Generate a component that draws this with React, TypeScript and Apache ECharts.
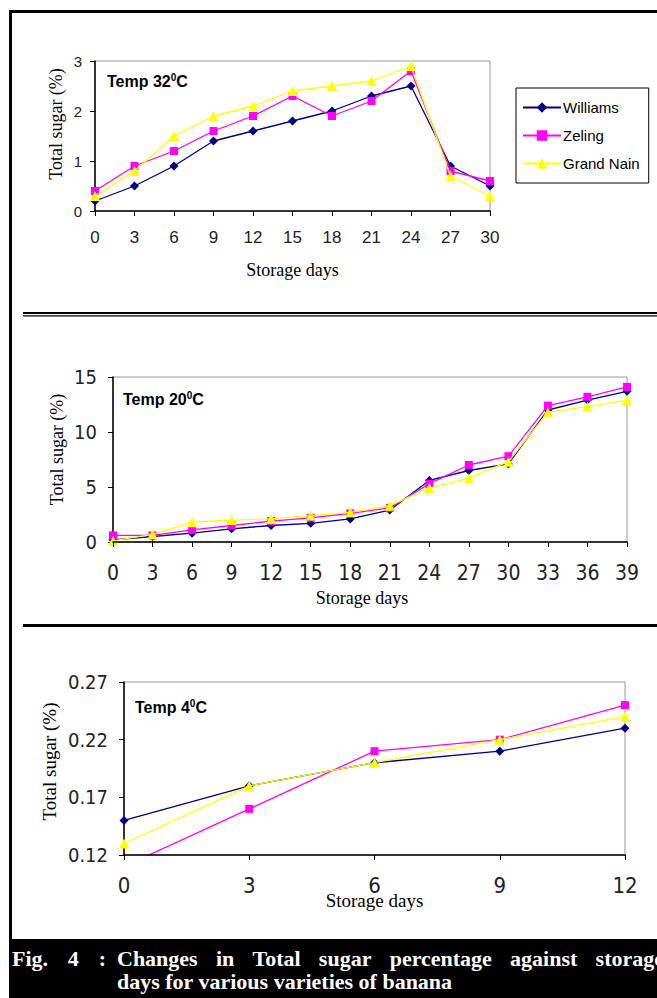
import React, { useEffect, useRef } from 'react';
import * as echarts from 'echarts';

// ---------- data ----------
const varieties = ['Williams', 'Zeling', 'Grand Nain'];

const days32 = [0, 3, 6, 9, 12, 15, 18, 21, 24, 27, 30];
const williams32 = [0.2, 0.5, 0.9, 1.4, 1.6, 1.8, 2.0, 2.3, 2.5, 0.9, 0.5];
const zeling32 = [0.4, 0.9, 1.2, 1.6, 1.9, 2.3, 1.9, 2.2, 2.8, 0.8, 0.6];
const grandNain32 = [0.3, 0.8, 1.5, 1.9, 2.1, 2.4, 2.5, 2.6, 2.9, 0.7, 0.3];

const days20 = [0, 3, 6, 9, 12, 15, 18, 21, 24, 27, 30, 33, 36, 39];
const williams20 = [0.2, 0.5, 0.8, 1.2, 1.5, 1.7, 2.1, 2.9, 5.6, 6.5, 7.1, 12.0, 12.9, 13.7];
const zeling20 = [0.6, 0.6, 1.1, 1.5, 1.9, 2.2, 2.6, 3.1, 5.3, 7.0, 7.8, 12.4, 13.2, 14.1];
const grandNain20 = [0.1, 0.7, 1.8, 2.0, 2.1, 2.4, 2.7, 3.3, 4.9, 5.8, 7.3, 11.8, 12.3, 12.9];

const days4 = [0, 3, 6, 9, 12];
const williams4 = [0.15, 0.18, 0.2, 0.21, 0.23];
const zeling4 = [0.11, 0.16, 0.21, 0.22, 0.25];
const grandNain4 = [0.13, 0.18, 0.2, 0.22, 0.24];

const tempLabels = ['32', '20', '4'];
const xAxisTitle = 'Storage days';
const yAxisTitle = 'Total sugar (%)';
const captionLine1a = ['Fig.', '4', ':'];
const captionLine1b = ['Changes', 'in', 'Total', 'sugar', 'percentage', 'against', 'storage'];
const captionLine2 = 'days for various varieties of banana';

// ---------- styles ----------
const colors = ['#000080', '#FF00FF', '#FFFF00'];
const symbols = ['diamond', 'rect', 'triangle'];
const symbolSizes = [9, 8, 10];
const SANS = '"Liberation Sans", Arial, sans-serif';
const NARROW = '"Liberation Sans Narrow", "Arial Narrow", "DejaVu Sans Condensed", sans-serif';
const SERIF = '"Liberation Serif", "Times New Roman", serif';

function pairs(xs: number[], ys: number[]) {
  return xs.map((x, i) => [x, ys[i]]);
}

function measure(text: string, font: string) {
  const c = document.createElement('canvas').getContext('2d')!;
  c.font = font;
  return c.measureText(text).width;
}

function justify(words: string[], x0: number, x1: number, font: string) {
  const w = words.map((t) => measure(t, font));
  const total = w.reduce((a, b) => a + b, 0);
  const gap = words.length > 1 ? (x1 - x0 - total) / (words.length - 1) : 0;
  const out: { text: string; x: number }[] = [];
  let x = x0;
  words.forEach((t, i) => {
    out.push({ text: t, x });
    x += w[i] + gap;
  });
  return out;
}

export default function App() {
  const ref = useRef<HTMLDivElement>(null);

  useEffect(() => {
    const chart = echarts.init(ref.current!, null, { renderer: 'svg' });

    const grids = [
      { left: 95, top: 61, width: 395, height: 150 },
      { left: 113, top: 377, width: 514, height: 165 },
      { left: 124, top: 682, width: 501, height: 173 },
    ];

    const panels = [
      { days: days32, vals: [williams32, zeling32, grandNain32], xmax: 30, ymin: 0, ymax: 3, yint: 1,
        xFont: { fontFamily: SANS, fontSize: 17 }, yFont: { fontFamily: SANS, fontSize: 15 },
        xMargin: 18, yMargin: 13, xNameGap: 50, yNameGap: 30, yNameShift: 24, xNamePad: [0, 0, 0, 0], nameSize: 18, fmt: (v: number) => String(v) },
      { days: days20, vals: [williams20, zeling20, grandNain20], xmax: 39, ymin: 0, ymax: 15, yint: 5,
        xFont: { fontFamily: NARROW, fontSize: 21 }, yFont: { fontFamily: NARROW, fontSize: 20 },
        xMargin: 20, yMargin: 16, xNameGap: 47, yNameGap: 47, yNameShift: 20, xNamePad: [0, 16, 0, 0], nameSize: 18, fmt: (v: number) => String(v) },
      { days: days4, vals: [williams4, zeling4, grandNain4], xmax: 12, ymin: 0.12, ymax: 0.27, yint: 0.05,
        xFont: { fontFamily: NARROW, fontSize: 22 }, yFont: { fontFamily: NARROW, fontSize: 20 },
        xMargin: 19, yMargin: 16, xNameGap: 33, yNameGap: 65, yNameShift: 14, xNamePad: [3, 15, 7, 15], nameSize: 19, fmt: (v: number) => v.toFixed(2) },
    ];

    const xAxis = panels.map((p, g) => ({
      gridIndex: g,
      type: 'value',
      min: 0,
      max: p.xmax,
      interval: 3,
      axisLine: { show: true, onZero: false, lineStyle: { color: '#000', width: 1.5 } },
      axisTick: { show: true, length: 5, lineStyle: { color: '#000', width: 1 } },
      splitLine: { show: false },
      axisLabel: { ...p.xFont, color: '#222', margin: p.xMargin },
      name: xAxisTitle,
      nameLocation: 'middle',
      nameGap: p.xNameGap,
      nameMoveOverlap: false,
      nameTextStyle: {
        fontFamily: SERIF, fontSize: p.nameSize, color: '#000',
        padding: p.xNamePad,
        backgroundColor: g === 2 ? '#fff' : 'transparent',
      },
      z: 5,
    }));

    const yAxis = panels.map((p, g) => ({
      gridIndex: g,
      type: 'value',
      min: p.ymin,
      max: p.ymax,
      interval: p.yint,
      axisLine: { show: true, onZero: false, lineStyle: { color: '#000', width: 1.5 } },
      axisTick: { show: true, length: 5, lineStyle: { color: '#000', width: 1 } },
      splitLine: { show: false },
      axisLabel: { ...p.yFont, color: '#222', margin: p.yMargin, formatter: p.fmt },
      name: yAxisTitle,
      nameLocation: 'middle',
      nameGap: p.yNameGap,
      nameMoveOverlap: false,
      nameTextStyle: { fontFamily: SERIF, fontSize: p.nameSize, color: '#000', padding: [0, 0, 0, p.yNameShift] },
    }));

    const series: any[] = [];
    panels.forEach((p, g) => {
      p.vals.forEach((vals, k) => {
        series.push({
          type: 'line',
          name: varieties[k],
          xAxisIndex: g,
          yAxisIndex: g,
          data: pairs(p.days, vals),
          symbol: symbols[k],
          symbolSize: symbolSizes[k],
          showAllSymbol: true,
          itemStyle: { color: colors[k] },
          lineStyle: { color: colors[k], width: 1.3 },
          z: 2 + k,
          clip: true,
        });
      });
    });

    const capFont = `bold 22px ${SERIF}`;
    const w1a = justify(captionLine1a, 12, 106, capFont);
    const w1b = justify(captionLine1b, 117, 664, capFont);
    const capText = (t: string, x: number, y: number) => ({
      type: 'text', x, y, z: 20,
      style: { text: t, fill: '#fff', font: capFont, verticalAlign: 'middle', textAlign: 'left' },
    });

    const tempY = [81, 399, 707];
    const tempX = [107, 123, 135];
    const tempText = tempLabels.map((t, i) => ({
      type: 'text', x: tempX[i], y: tempY[i], z: 20,
      style: {
        text: `{a|Temp ${t}}{s|0}{a|C}`,
        verticalAlign: 'middle',
        rich: {
          a: { fontSize: 16, fontWeight: 'bold', fontFamily: SANS, fill: '#000', lineHeight: 18 },
          s: { fontSize: 10, fontWeight: 'bold', fontFamily: SANS, fill: '#000', lineHeight: 10, verticalAlign: 'top' },
        },
      },
    }));

    const option: any = {
      animation: false,
      backgroundColor: '#fff',
      grid: grids.map((gr) => ({ ...gr, show: true, borderColor: '#999', borderWidth: 1, backgroundColor: '#fff', containLabel: false, outerBoundsMode: 'none' })),
      xAxis,
      yAxis,
      legend: {
        show: true,
        orient: 'vertical',
        left: 516,
        top: 88,
        data: varieties,
        itemWidth: 38,
        itemHeight: 13,
        itemGap: 13,
        padding: [12, 9, 12, 6],
        borderColor: '#000',
        borderWidth: 1,
        backgroundColor: '#fff',
        textStyle: { fontFamily: SANS, fontSize: 15, color: '#000', padding: [0, 0, 0, -3] },
        selectedMode: false,
      },
      series,
      graphic: [
        // outer frame
        { type: 'rect', shape: { x: 9, y: 10, width: 3, height: 930 }, style: { fill: '#000' }, z: 20 },
        { type: 'rect', shape: { x: 9, y: 10, width: 648, height: 3 }, style: { fill: '#000' }, z: 20 },
        // separators
        { type: 'rect', shape: { x: 23, y: 312, width: 634, height: 2 }, style: { fill: '#000' }, z: 20 },
        { type: 'rect', shape: { x: 23, y: 315.3, width: 634, height: 1.2 }, style: { fill: '#000' }, z: 20 },
        { type: 'rect', shape: { x: 23, y: 624, width: 634, height: 3 }, style: { fill: '#000' }, z: 20 },
        // caption band
        { type: 'rect', shape: { x: 9, y: 939, width: 648, height: 59 }, style: { fill: '#000' }, z: 19 },
        ...w1a.map((w) => capText(w.text, w.x, 958)),
        ...w1b.map((w) => capText(w.text, w.x, 958)),
        capText(captionLine2, 117, 981),
        ...tempText,
      ],
    };

    chart.setOption(option);
    return () => chart.dispose();
  }, []);

  return (
    <div
      ref={ref}
      style={{ position: 'fixed', left: 0, top: 0, width: 657, height: 998, background: '#fff' }}
    />
  );
}
